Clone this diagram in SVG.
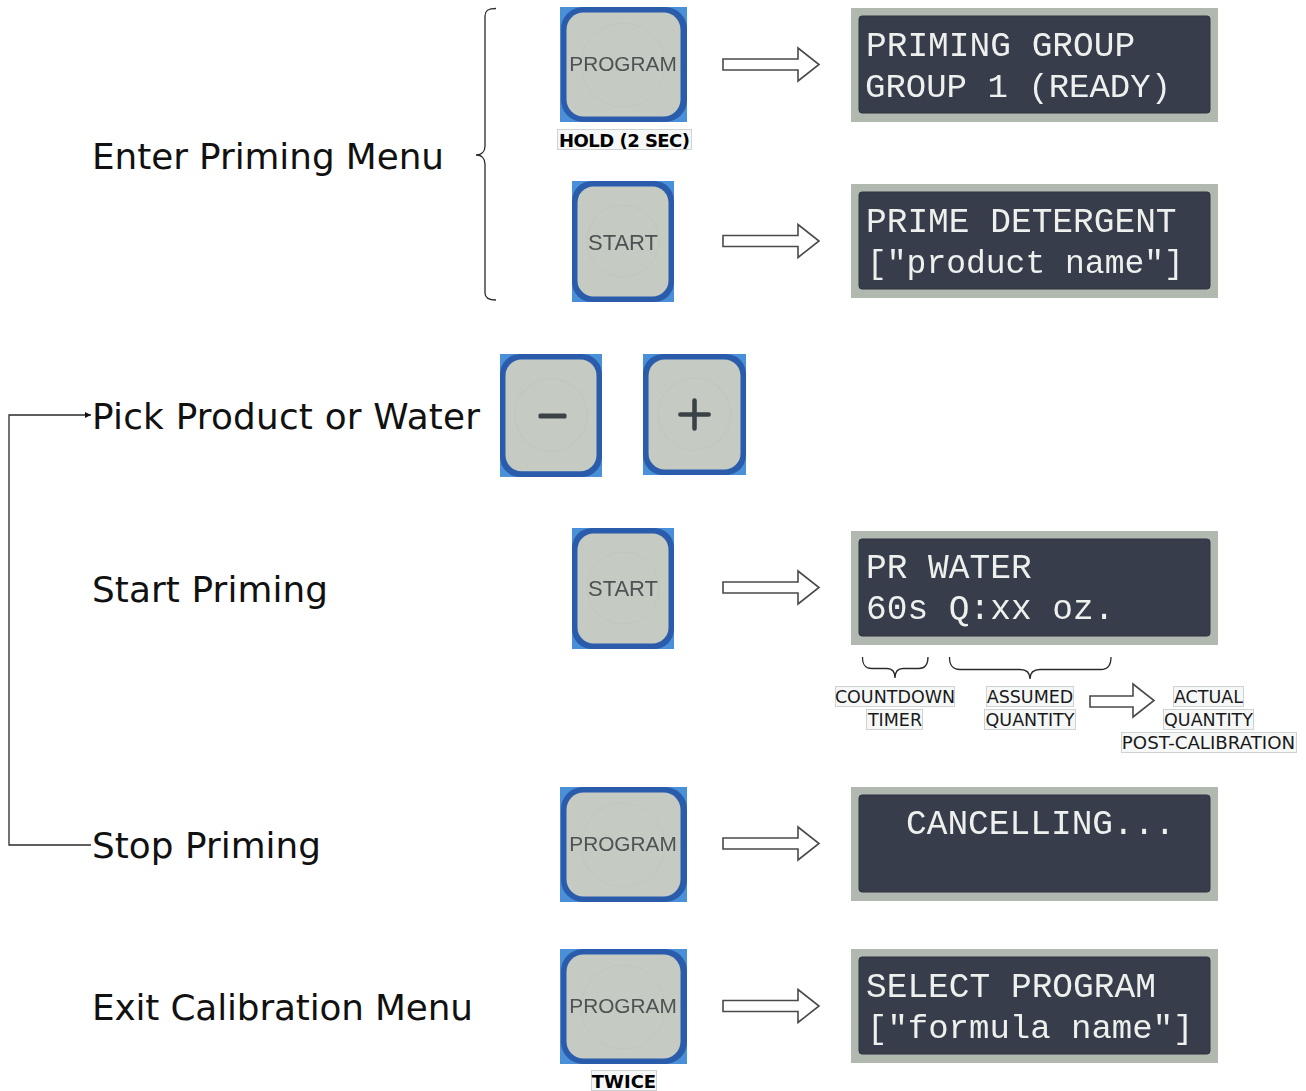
<svg xmlns="http://www.w3.org/2000/svg" xmlns:xlink="http://www.w3.org/1999/xlink" width="1306" height="1091" viewBox="0 0 1306 1091">
<style>
.lbl{font-family:"DejaVu Sans",Verdana,sans-serif;font-size:35.800px;fill:#111}
.bt{font-family:"Liberation Sans",Arial,sans-serif;font-size:22px;fill:#4e5253;text-anchor:middle}
.bw{font-size:20.800px}
.lcd{font-family:"Liberation Mono","Courier New",monospace;font-size:34.500px;fill:#eef0ee}
.sm{font-family:"DejaVu Sans",Verdana,sans-serif;font-size:17.500px;fill:#1a1a1a;text-anchor:middle}
.bd{font-family:"DejaVu Sans",Verdana,sans-serif;font-size:18px;font-weight:bold;fill:#000;text-anchor:middle}
.tag{fill:#f6f8f8;stroke:#cfd2d2;stroke-width:1}
.outer{fill:#4a90d9}
.rim{fill:#2a5cab}
.face{fill:#c5cac3}
.ring{fill:none;stroke:#c1c6bf;stroke-width:1}
.bezel{fill:#b0b8b0}
.screen{fill:#383e4c;stroke:#2c323d;stroke-width:1}
.blk{fill:#fff;stroke:#4a4a4a;stroke-width:1.600;stroke-linejoin:miter}
.ln{fill:none;stroke:#2a2a2a;stroke-width:1.300}
.soft{filter:url(#soft)}
</style>
<defs>
<filter id="soft" x="-5%" y="-5%" width="110%" height="110%"><feGaussianBlur stdDeviation="0.500"/></filter>
<marker id="tip" markerWidth="6" markerHeight="6" refX="5" refY="3" orient="auto"><path d="M0 .5L5 3L0 5.500Z" fill="#111"/></marker>
<path id="bigArrow" class="blk" d="M723 59H798V48L819 64.500L798 81V70H723Z"/>
<g id="wideBtn"><rect class="outer" x="0" y="0" width="127" height="115"/><rect class="rim" x="1" y="0" width="126" height="115" rx="22"/><rect class="face" x="6.500" y="5.500" width="114" height="104" rx="17"/><circle class="ring" cx="63" cy="58" r="42"/></g>
<g id="narrowBtn"><rect class="outer" x="0" y="0" width="102" height="121"/><rect class="rim" x="0" y="0" width="102" height="121" rx="20"/><rect class="face" x="5.500" y="5.500" width="91" height="110" rx="16"/><circle class="ring" cx="51" cy="60" r="36"/></g>
<g id="lcdBox"><rect class="bezel" x="0" y="0" width="367" height="114"/><rect class="screen" x="8" y="8" width="351" height="97" rx="3"/></g>
</defs>
<rect width="1306" height="1091" fill="#fff"/>

<g id="connectors">
<path class="ln" marker-end="url(#tip)" d="M91 845H9V415H91"/>
<path class="ln" d="M496 8.500C489 8.500 485 10 485 16V146C485 151 482 155 476 155C482 155 485 159 485 164V293C485 298 489 300 496 300"/>
<path class="ln" d="M862.500 657C862.500 665 865 668.500 872 668.500H887C892 668.500 895 671 895 678C895 671 898 668.500 903 668.500H919C925 668.500 928 665 928 657"/>
<path class="ln" d="M949.500 657C949.500 665 952 669.500 960 669.500H1020C1026 669.500 1030 672 1030 679C1030 672 1034 669.500 1040 669.500H1101C1108 669.500 1111 665 1111 657"/>
<use xlink:href="#bigArrow" href="#bigArrow"/>
<use xlink:href="#bigArrow" href="#bigArrow" y="176.500"/>
<use xlink:href="#bigArrow" href="#bigArrow" y="523"/>
<use xlink:href="#bigArrow" href="#bigArrow" y="779"/>
<use xlink:href="#bigArrow" href="#bigArrow" y="941.500"/>
<path class="blk" d="M1090 696H1133V684L1154 700.500L1133 717V707H1090Z"/>
</g>

<g id="label-enter"><text class="lbl" x="92" y="169" textLength="352">Enter Priming Menu</text></g>
<g id="label-pick"><text class="lbl" x="92" y="429" textLength="388">Pick Product or Water</text></g>
<g id="label-start"><text class="lbl" x="92" y="602" textLength="236">Start Priming</text></g>
<g id="label-stop"><text class="lbl" x="92" y="858" textLength="229">Stop Priming</text></g>
<g id="label-exit"><text class="lbl" x="92" y="1020" textLength="381">Exit Calibration Menu</text></g>

<g id="btn-program-1" class="soft" transform="translate(560 7)"><use xlink:href="#wideBtn" href="#wideBtn"/><text class="bt bw" x="63" y="64">PROGRAM</text></g>
<g id="tag-hold"><rect class="tag" x="557.500" y="129.500" width="134" height="20"/><text class="bd" x="624.500" y="146.500" textLength="131">HOLD (2 SEC)</text></g>
<g id="btn-start-1" class="soft" transform="translate(572 181)"><use xlink:href="#narrowBtn" href="#narrowBtn"/><text class="bt" x="51" y="69">START</text></g>
<g id="btn-minus" class="soft" transform="translate(500 354) scale(1 1.016)"><use xlink:href="#narrowBtn" href="#narrowBtn"/><rect x="38.500" y="58.500" width="28" height="5" rx="1.500" fill="#3a4347"/></g>
<g id="btn-plus" class="soft" transform="translate(643 354) scale(1.010 1)"><use xlink:href="#narrowBtn" href="#narrowBtn"/><path d="M37 60.500H65M51 46.500V74.500" stroke="#3a4347" stroke-width="4.500" stroke-linecap="round" fill="none"/></g>
<g id="btn-start-2" class="soft" transform="translate(572 528)"><use xlink:href="#narrowBtn" href="#narrowBtn"/><text class="bt" x="51" y="68">START</text></g>
<g id="btn-program-2" class="soft" transform="translate(560 787)"><use xlink:href="#wideBtn" href="#wideBtn"/><text class="bt bw" x="63" y="64">PROGRAM</text></g>
<g id="btn-program-3" class="soft" transform="translate(560 949)"><use xlink:href="#wideBtn" href="#wideBtn"/><text class="bt bw" x="63" y="64">PROGRAM</text></g>
<g id="tag-twice"><rect class="tag" x="591.500" y="1070.500" width="65" height="20"/><text class="bd" x="624" y="1087.500">TWICE</text></g>

<g id="lcd-1" class="soft" transform="translate(851 8)"><use xlink:href="#lcdBox" href="#lcdBox"/><text class="lcd" x="15" y="48">PRIMING GROUP</text><text class="lcd" x="14" y="89" style="font-size:34px">GROUP 1 (READY)</text></g>
<g id="lcd-2" class="soft" transform="translate(851 184)"><use xlink:href="#lcdBox" href="#lcdBox"/><text class="lcd" x="15" y="48">PRIME DETERGENT</text><text class="lcd" x="16" y="89" style="font-size:33px">["product name"]</text></g>
<g id="lcd-3" class="soft" transform="translate(851 531)"><use xlink:href="#lcdBox" href="#lcdBox"/><text class="lcd" x="15" y="47">PR WATER</text><text class="lcd" x="15" y="88">60s Q:xx oz.</text></g>
<g id="lcd-4" class="soft" transform="translate(851 787)"><use xlink:href="#lcdBox" href="#lcdBox"/><text class="lcd" x="55" y="47">CANCELLING...</text></g>
<g id="lcd-5" class="soft" transform="translate(851 949)"><use xlink:href="#lcdBox" href="#lcdBox"/><text class="lcd" x="15" y="48">SELECT PROGRAM</text><text class="lcd" x="16" y="89" style="font-size:34px">["formula name"]</text></g>

<g id="note-timer"><rect class="tag" x="835.500" y="686.500" width="119" height="20"/><rect class="tag" x="866.500" y="709.500" width="56" height="20"/><text class="sm" x="895" y="703">COUNTDOWN</text><text class="sm" x="895" y="726">TIMER</text></g>
<g id="note-assumed"><rect class="tag" x="986.500" y="686.500" width="87" height="20"/><rect class="tag" x="984.500" y="709.500" width="91" height="20"/><text class="sm" x="1030" y="703">ASSUMED</text><text class="sm" x="1030" y="726">QUANTITY</text></g>
<g id="note-actual"><rect class="tag" x="1173.500" y="686.500" width="70" height="20"/><rect class="tag" x="1163.500" y="709.500" width="90" height="20"/><rect class="tag" x="1121.500" y="732.500" width="175" height="20"/><text class="sm" x="1208.500" y="703">ACTUAL</text><text class="sm" x="1208.500" y="726">QUANTITY</text><text class="sm" x="1208.500" y="749" style="font-size:18.200px">POST-CALIBRATION</text></g>
</svg>
